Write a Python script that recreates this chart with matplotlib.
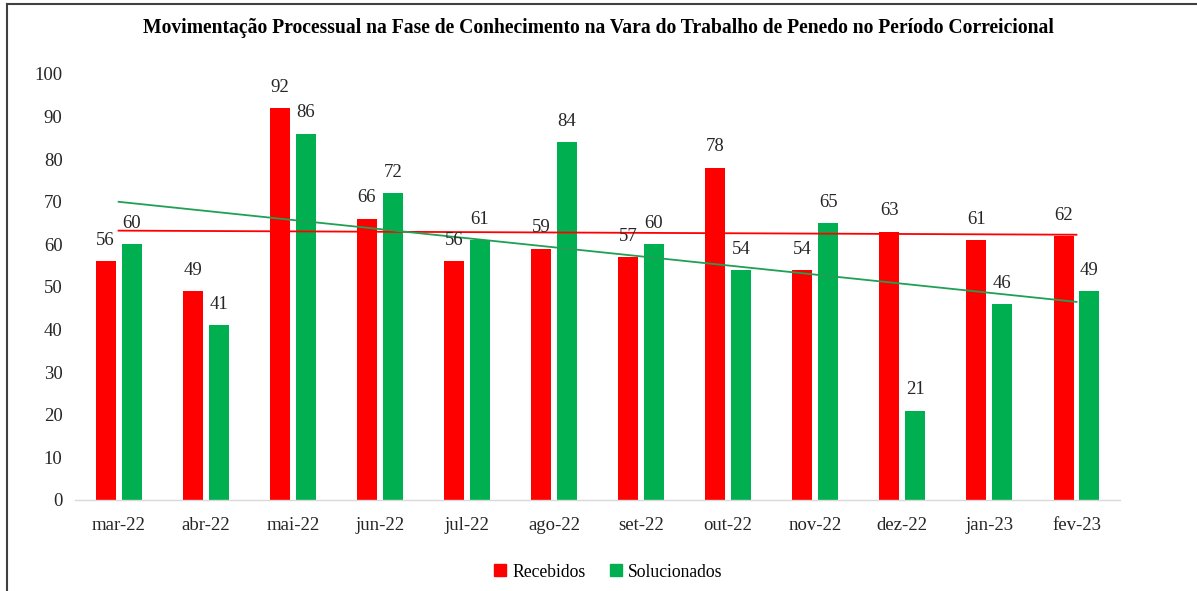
import matplotlib.pyplot as plt
import numpy as np
from matplotlib.lines import Line2D

plt.rcParams['font.family'] = ['Liberation Serif', 'DejaVu Serif']

months = ["mar-22", "abr-22", "mai-22", "jun-22", "jul-22", "ago-22",
          "set-22", "out-22", "nov-22", "dez-22", "jan-23", "fev-23"]
recebidos = [56, 49, 92, 66, 56, 59, 57, 78, 54, 63, 61, 62]
solucionados = [60, 41, 86, 72, 61, 84, 60, 54, 65, 21, 46, 49]

RED = "#FF0000"
GREEN = "#00B050"

fig = plt.figure(figsize=(11.97, 5.91), dpi=100)
ax = fig.add_axes([0.0627, 0.154, 0.873, 0.7208])

x = np.arange(len(months))
w = 0.23
off = 0.149
bars_r = ax.bar(x - off, recebidos, w, color=RED, label="Recebidos")
bars_s = ax.bar(x + off, solucionados, w, color=GREEN, label="Solucionados")

for bars in (bars_r, bars_s):
    for b in bars:
        ax.text(b.get_x() + b.get_width() / 2, b.get_height() + 2.9,
                f"{b.get_height():.0f}", ha="center", va="bottom",
                fontsize=13.5, color="#262626")

# linear trendlines (Excel style)
for vals, col in ((recebidos, RED), (solucionados, "#1FA055")):
    k, c = np.polyfit(x, vals, 1)
    ax.plot(x, k * x + c, color=col, lw=1.3)

ax.set_xlim(-0.5, len(months) - 0.5)
ax.set_ylim(0, 100)
ax.set_yticks(range(0, 101, 10))
ax.set_xticks(x)
ax.set_xticklabels(months)
ax.tick_params(length=0, labelsize=13.5, colors="#262626")
ax.tick_params(axis="y", pad=9)
ax.tick_params(axis="x", pad=12)
for s in ("top", "right", "left"):
    ax.spines[s].set_visible(False)
ax.spines["bottom"].set_color("#D9D9D9")
ax.spines["bottom"].set_linewidth(1.0)

fig.text(0.5, 0.952,
         "Movimentação Processual na Fase de Conhecimento na Vara do Trabalho de Penedo no Período Correicional",
         ha="center", va="center", fontsize=14.1, weight="bold", color="#000000")

handles = [Line2D([], [], marker="s", ls="", color=RED, markersize=9),
           Line2D([], [], marker="s", ls="", color=GREEN, markersize=9)]
fig.legend(handles, ["Recebidos", "Solucionados"], loc="center",
           bbox_to_anchor=(0.507, 0.032), ncol=2, frameon=False,
           fontsize=12.7, handletextpad=0.2, columnspacing=1.2,
           handlelength=1.0)

# chart border (left and top edges visible)
fig.add_artist(Line2D([7 / 1197, 7 / 1197], [0, 1 - 4 / 591],
                      transform=fig.transFigure, color="#404040", lw=1.5))
fig.add_artist(Line2D([7 / 1197, 1], [1 - 4 / 591, 1 - 4 / 591],
                      transform=fig.transFigure, color="#404040", lw=1.5))

fig.savefig("out.png", dpi=100, facecolor="white")
